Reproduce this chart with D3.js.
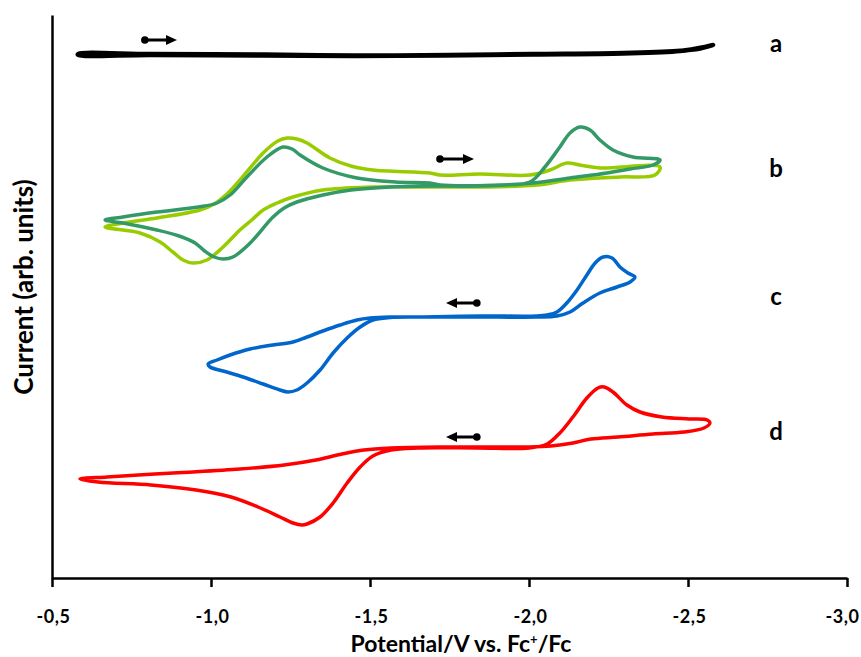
<!DOCTYPE html>
<html><head><meta charset="utf-8">
<script src="https://cdn.jsdelivr.net/npm/d3@7"></script>
<style>
html,body{margin:0;padding:0;background:#fff;}
svg{display:block;font-family:Lato,"Open Sans",sans-serif;}
</style></head>
<body>
<svg id="chart" width="861" height="657"></svg>
<script>
// Potential (V vs Fc+/Fc) and current (arb. units)
const curveA = [[-0.582,52.4],[-0.808,52.4],[-1.167,52.35],[-1.450,52.25],[-1.752,52.3],[-2.013,52.4],[-2.296,52.5],[-2.465,52.7],[-2.538,52.95],[-2.579,53.3],[-2.553,53.1],[-2.475,52.7],[-2.296,52.45],[-2.013,52.35],[-1.450,52.2],[-1.167,52.25],[-0.808,52.3],[-0.582,52.3]];
const curveB1 = [[-1.720,40.3],[-1.846,40.4],[-2.003,40.3],[-2.066,40.8],[-2.119,41.5],[-2.160,41.3],[-2.223,41.0],[-2.412,41.1],[-2.396,40.3],[-2.286,40.1],[-2.129,39.8],[-2.025,39.3],[-1.846,39.1],[-1.689,39.1],[-1.509,39.1],[-1.352,38.8],[-1.248,38.0],[-1.208,37.5],[-1.164,36.8],[-1.128,35.8],[-1.091,34.8],[-1.038,33.1],[-0.987,31.8],[-0.943,31.5],[-0.912,31.8],[-0.880,32.6],[-0.840,33.6],[-0.777,34.5],[-0.667,35.1],[-0.723,35.5],[-0.830,36.0],[-0.965,36.8],[-1.010,37.4],[-1.050,38.4],[-1.091,39.8],[-1.164,42.5],[-1.210,43.7],[-1.239,44.0],[-1.270,43.9],[-1.302,43.5],[-1.374,42.0],[-1.440,41.2],[-1.509,40.8],[-1.689,40.5]];
const curveB2 = [[-1.720,39.3],[-1.909,39.3],[-2.003,39.6],[-2.050,41.1],[-2.097,43.1],[-2.129,44.5],[-2.160,45.1],[-2.192,44.8],[-2.223,43.8],[-2.264,42.8],[-2.327,42.1],[-2.412,41.8],[-2.390,41.3],[-2.318,40.9],[-2.245,40.5],[-2.129,40.0],[-2.013,39.5],[-1.846,39.2],[-1.689,39.2],[-1.563,39.1],[-1.440,38.8],[-1.352,38.3],[-1.270,37.6],[-1.230,37.0],[-1.195,36.1],[-1.123,33.5],[-1.069,32.1],[-1.038,31.9],[-1.010,32.1],[-0.980,32.7],[-0.950,33.5],[-0.900,34.2],[-0.830,34.8],[-0.723,35.5],[-0.667,35.8],[-0.723,36.1],[-0.830,36.6],[-0.960,37.1],[-1.019,37.5],[-1.060,38.3],[-1.113,40.1],[-1.176,42.1],[-1.226,43.1],[-1.255,42.9],[-1.280,42.3],[-1.352,41.0],[-1.459,40.0],[-1.580,39.6],[-1.689,39.5]];
const curveC = [[-1.836,26.1],[-1.667,26.1],[-1.563,26.1],[-1.500,26.0],[-1.459,25.8],[-1.406,25.3],[-1.352,24.7],[-1.302,24.1],[-1.258,23.6],[-1.195,23.3],[-1.123,22.9],[-1.060,22.3],[-1.019,21.8],[-0.991,21.4],[-0.997,21.1],[-1.038,20.7],[-1.101,20.1],[-1.164,19.4],[-1.217,18.8],[-1.242,18.6],[-1.270,18.8],[-1.302,19.5],[-1.343,20.8],[-1.384,22.5],[-1.428,24.0],[-1.469,25.1],[-1.509,25.8],[-1.563,26.05],[-1.667,26.1],[-1.846,26.2],[-2.025,26.2],[-2.057,26.3],[-2.088,26.6],[-2.119,27.5],[-2.151,28.8],[-2.182,30.3],[-2.208,31.5],[-2.233,32.1],[-2.261,32.0],[-2.286,31.1],[-2.311,30.5],[-2.333,30.1],[-2.318,29.6],[-2.277,29.1],[-2.223,28.5],[-2.170,27.5],[-2.129,26.6],[-2.088,26.2],[-2.025,26.1]];
const curveD = [[-1.836,13.1],[-1.720,13.1],[-1.566,13.0],[-1.481,12.8],[-1.412,12.4],[-1.330,11.8],[-1.230,11.3],[-1.091,10.9],[-0.881,10.5],[-0.673,10.1],[-0.588,9.9],[-0.645,9.6],[-0.811,9.3],[-0.953,8.8],[-1.063,8.1],[-1.148,7.1],[-1.217,6.1],[-1.258,5.5],[-1.286,5.3],[-1.302,5.4],[-1.343,6.1],[-1.384,7.5],[-1.428,9.5],[-1.469,11.1],[-1.509,12.2],[-1.566,12.8],[-1.651,13.0],[-1.836,13.0],[-2.000,13.0],[-2.057,13.4],[-2.097,14.5],[-2.138,16.1],[-2.182,18.0],[-2.217,19.0],[-2.236,19.1],[-2.264,18.6],[-2.308,17.3],[-2.349,16.6],[-2.418,16.1],[-2.503,15.9],[-2.560,15.8],[-2.569,15.5],[-2.550,15.0],[-2.487,14.6],[-2.390,14.4],[-2.280,14.1],[-2.195,13.9],[-2.138,13.5],[-2.069,13.2],[-2.000,13.1]];

const seriesColors = ["#000000","#99cc00","#339966","#0066cc","#ff0000"];
const seriesWidths = [4.5,3.5,3.5,3.5,3.5];

// Scan direction arrows: [start (dot), end (head), current]
const arrowsData = [[-0.792,-0.893,53.8],[-1.720,-1.827,41.9],[-1.836,-1.739,27.5],[-1.836,-1.739,14.1]];

const labelNames = ["a","b","c","d"];
const labelLevels = [52.6,40.1,27.3,13.8];
const labelPotential = -2.777;

const xTicks = [-0.5,-1.0,-1.5,-2.0,-2.5,-3.0];
const xTitle = "Potential/V vs. Fc";
const yTitle = "Current (arb. units)";

const svg = d3.select("#chart");
const x = d3.scaleLinear().domain([-0.5,-3.0]).range([52,847]);
const y = d3.scaleLinear().domain([0,56.3]).range([578,15]);

const line = d3.line().x(d=>x(d[0])).y(d=>y(d[1])).curve(d3.curveCatmullRomClosed.alpha(0.5));

const series = [curveA,curveB1,curveB2,curveC,curveD];
svg.append("g").selectAll("path").data(series).join("path")
  .attr("d",line).attr("fill","none")
  .attr("stroke",(d,i)=>seriesColors[i])
  .attr("stroke-width",(d,i)=>seriesWidths[i])
  .attr("stroke-linejoin","round");

// arrows
const ag = svg.append("g");
arrowsData.forEach(a=>{
  const x0=x(a[0]), x1=x(a[1]), yy=y(a[2]);
  const dir = Math.sign(x1-x0);
  ag.append("line").attr("x1",x0).attr("y1",yy).attr("x2",x1-dir*6).attr("y2",yy)
    .attr("stroke","#000").attr("stroke-width",3);
  ag.append("circle").attr("cx",x0).attr("cy",yy).attr("r",3.8).attr("fill","#000");
  ag.append("path").attr("d",`M${x1},${yy} L${x1-dir*11},${yy-5} L${x1-dir*11},${yy+5} Z`).attr("fill","#000");
});

// labels
svg.append("g").selectAll("text").data(labelNames).join("text")
  .attr("x",x(labelPotential)).attr("y",(d,i)=>y(labelLevels[i]))
  .attr("text-anchor","middle")
  .attr("font-size",24).attr("font-weight",700).text(d=>d);

// axes
const xAxis = d3.axisBottom(x).tickValues(xTicks).tickSize(9).tickSizeOuter(0)
  .tickFormat(d=>d.toFixed(1).replace(".",","));
const gx = svg.append("g").attr("transform","translate(0,578)").call(xAxis);
gx.select(".domain").attr("stroke","#000").attr("stroke-width",2.5);
gx.selectAll(".tick line").attr("stroke","#000").attr("stroke-width",2.5);
gx.selectAll(".tick text").attr("y",45).attr("dy",0).attr("font-size",18).attr("font-weight",700)
  .attr("letter-spacing",0.6).attr("font-family","Lato, sans-serif").attr("fill","#000")
  .attr("dx",(d,i,n)=> i===n.length-1 ? -5 : 1);

const gy = svg.append("g").attr("transform","translate(52,0)")
  .call(d3.axisLeft(y).tickValues([]).tickSizeOuter(0));
gy.select(".domain").attr("stroke","#000").attr("stroke-width",2.5);

const xt = svg.append("text").attr("x",461).attr("y",652).attr("text-anchor","middle")
  .attr("font-size",23).attr("font-weight",700);
xt.append("tspan").text(xTitle);
xt.append("tspan").attr("baseline-shift","super").attr("font-size",13).text("+");
xt.append("tspan").text("/Fc");

svg.append("text").attr("transform","translate(33,287) rotate(-90)")
  .attr("text-anchor","middle").attr("font-size",26).attr("font-weight",700).text(yTitle);
</script>
</body></html>
